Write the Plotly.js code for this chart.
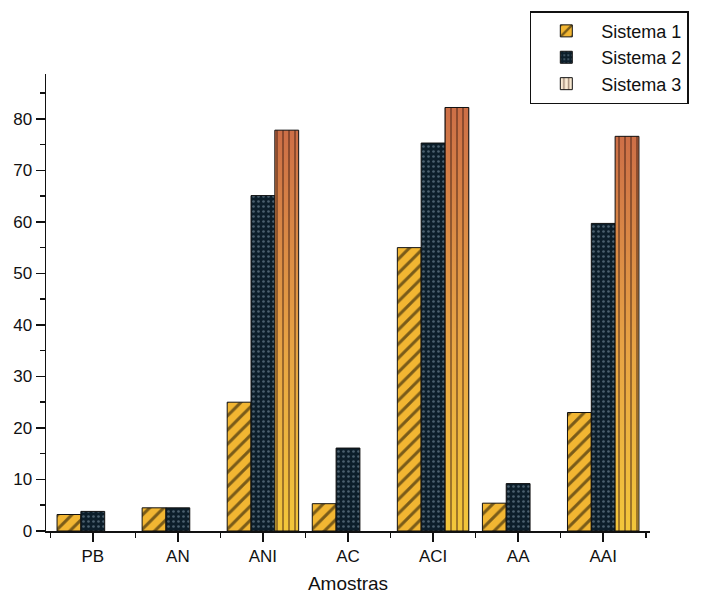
<!DOCTYPE html>
<html>
<head>
<meta charset="utf-8">
<script src="https://cdn.plot.ly/plotly-3.0.1.min.js"></script>
<style>html,body{margin:0;padding:0;background:#fff;}#chart{width:705px;height:594px;}</style>
</head>
<body>
<div id="chart"></div>
<script>
const categories = ['PB', 'AN', 'ANI', 'AC', 'ACI', 'AA', 'AAI'];
const sistema1 = [3.2, 4.5, 25.0, 5.3, 55.0, 5.4, 23.0];
const sistema2 = [3.8, 4.5, 65.1, 16.1, 75.3, 9.2, 59.7];
const sistema3 = [null, null, 77.8, null, 82.2, null, 76.6];
const seriesNames = ['Sistema 1', 'Sistema 2', 'Sistema 3'];
const yTicks = [0, 10, 20, 30, 40, 50, 60, 70, 80];

const pos = categories.map((c, i) => i);
const W = 0.28;
const xr = [-0.55, 6.55];
const yr = [0, 88.7];

const traces = [];
traces.push({
  type: 'bar', name: seriesNames[0], x: pos, y: sistema1, width: W, offset: -1.5 * W,
  marker: {color: '#f2b632', line: {color: '#111', width: 1},
    pattern: {shape: '/', fillmode: 'overlay', bgcolor: '#f2b632', fgcolor: '#000', size: 10, solidity: 0.3}},
  xaxis: 'x', yaxis: 'y'
});
traces.push({
  type: 'bar', name: seriesNames[1], x: pos, y: sistema2, width: W, offset: -0.5 * W,
  marker: {color: '#0c1e2a', line: {color: '#111', width: 1},
    pattern: {shape: '.', fillmode: 'overlay', bgcolor: '#0c1e2a', fgcolor: '#8aa2b2', size: 5, solidity: 0.22}},
  xaxis: 'x', yaxis: 'y'
});
// gradient fill for Sistema 3 bars, from the data values
sistema3.forEach((v, i) => {
  if (v === null) return;
  const x0 = pos[i] + 0.5 * W, x1 = pos[i] + 1.5 * W;
  traces.push({
    type: 'scatter', mode: 'none', showlegend: false, hoverinfo: 'skip',
    x: [x0, x1, x1, x0, x0], y: [0, 0, v, v, 0], fill: 'toself',
    fillgradient: {type: 'vertical', colorscale: [[0, '#f4d03a'], [0.45, '#e6a446'], [1, '#c4604a']]},
    xaxis: 'x', yaxis: 'y'
  });
});
traces.push({
  type: 'bar', name: seriesNames[2], x: pos, y: sistema3, width: W, offset: 0.5 * W,
  marker: {color: 'rgba(0,0,0,0)', line: {color: '#111', width: 1},
    pattern: {shape: '|', fillmode: 'overlay', bgcolor: 'rgba(238,165,60,0.22)', fgcolor: '#3a1a10', size: 6, solidity: 0.3}},
  xaxis: 'x2', yaxis: 'y2'
});

const font = {family: 'Liberation Sans, Arial, sans-serif', color: '#111'};
const layout = {
  width: 705, height: 594,
  margin: {l: 46, r: 55, t: 73, b: 63},
  paper_bgcolor: '#fff', plot_bgcolor: 'rgba(0,0,0,0)',
  showlegend: true,
  legend: {x: 0.801, y: 1.135, xanchor: 'left', yanchor: 'top', bordercolor: '#111', borderwidth: 1.5,
    bgcolor: '#fff', font: Object.assign({size: 18}, font), traceorder: 'normal', itemwidth: 60},
  xaxis: {
    range: xr, tickmode: 'array', tickvals: pos, ticktext: categories,
    showgrid: false, zeroline: false, showline: true, linecolor: '#111', linewidth: 1.5,
    ticks: 'outside', ticklen: 9, tickwidth: 1.5, tickcolor: '#111',
    tickfont: Object.assign({size: 17}, font),
    minor: {tick0: 0.5, dtick: 1, ticks: 'outside', ticklen: 5, tickwidth: 1.5, tickcolor: '#111', showgrid: false},
    title: {text: 'Amostras', font: Object.assign({size: 19}, font), standoff: 12}
  },
  yaxis: {
    range: yr, tickmode: 'array', tickvals: yTicks,
    showgrid: false, zeroline: false, showline: true, linecolor: '#111', linewidth: 1.5,
    ticks: 'outside', ticklen: 9, tickwidth: 1.5, tickcolor: '#111',
    tickfont: Object.assign({size: 17}, font),
    minor: {tick0: 5, dtick: 10, ticks: 'outside', ticklen: 5, tickwidth: 1.5, tickcolor: '#111', showgrid: false}
  },
  xaxis2: {range: xr, overlaying: 'x', visible: false, fixedrange: true},
  yaxis2: {range: yr, overlaying: 'y', visible: false, fixedrange: true}
};
Plotly.newPlot('chart', traces, layout, {displayModeBar: false, staticPlot: true});
</script>
</body>
</html>
